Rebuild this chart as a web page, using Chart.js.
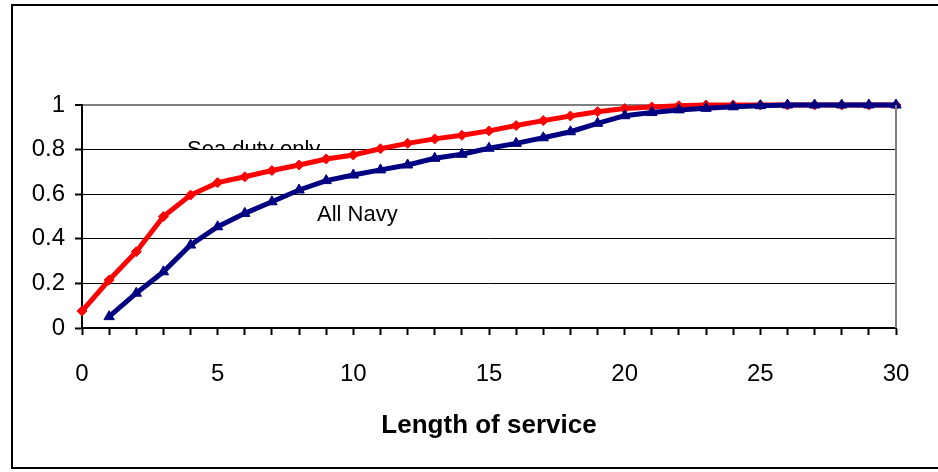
<!DOCTYPE html>
<html>
<head>
<meta charset="utf-8">
<script src="https://cdn.jsdelivr.net/npm/chart.js@4.4.1/dist/chart.umd.min.js"></script>
<style>
  html, body { margin: 0; padding: 0; background: #fff; }
  #wrap { width: 938px; height: 472px; position: relative; }
</style>
</head>
<body>
<div id="wrap"><canvas id="grafico" width="938" height="472"></canvas></div>
<script>
// datos
var years = [0,1,2,3,4,5,6,7,8,9,10,11,12,13,14,15,16,17,18,19,20,21,22,23,24,25,26,27,28,29,30];
var seaDuty = [0.076,0.215,0.342,0.50,0.596,0.652,0.678,0.706,0.731,0.758,0.776,0.804,0.828,0.848,0.864,0.884,0.908,0.930,0.951,0.970,0.984,0.991,0.997,1,1,1,1,1,1,1,1];
var allNavy = [null,0.051,0.156,0.252,0.372,0.454,0.514,0.566,0.619,0.661,0.686,0.709,0.731,0.761,0.779,0.806,0.828,0.853,0.880,0.918,0.952,0.966,0.978,0.985,0.992,0.997,1,1,1,1,1];
var xTicks = [0,5,10,15,20,25,30];
var yTicks = [0,0.2,0.4,0.6,0.8,1];
var textos = [
  {text: "Sea duty only", x: 3.87, y: 0.771, clipAt: 0.8},
  {text: "All Navy", x: 8.66, y: 0.48, clipAt: null}
];

function puntos(serie){
  var out = [];
  for (let i = 0; i < years.length; i++) {
    if (serie[i] !== null) out.push({x: years[i], y: serie[i]});
  }
  return out;
}

var FUENTE = "'Liberation Sans', Arial, sans-serif";

var marco = {
  id: "marco",
  afterDraw: function(chart){
    var c = chart.ctx, a = chart.chartArea;
    c.save();
    // borde gris derecho del area
    c.strokeStyle = "#808080";
    c.lineWidth = 2;
    c.beginPath();
    c.moveTo(a.right, a.top);
    c.lineTo(a.right, a.bottom);
    c.stroke();
    // marco exterior
    c.strokeStyle = "#000";
    c.lineWidth = 2;
    c.strokeRect(12, 5, 940, 463);
    c.restore();
  },
  afterDatasetsDraw: function(chart){
    var c = chart.ctx;
    var xs = chart.scales.x, ys = chart.scales.y;
    c.save();
    c.font = "22px " + FUENTE;
    c.fillStyle = "#000";
    c.textBaseline = "alphabetic";
    textos.forEach(function(t){
      c.save();
      if (t.clipAt !== null) {
        c.beginPath();
        c.rect(0, 0, chart.width, ys.getPixelForValue(t.clipAt));
        c.clip();
      }
      c.fillText(t.text, xs.getPixelForValue(t.x), ys.getPixelForValue(t.y));
      c.restore();
    });
    c.restore();
  }
};

var ctx = document.getElementById("grafico").getContext("2d");
var chart = new Chart(ctx, {
  type: "line",
  data: {
    datasets: [
      {
        label: "Sea duty only",
        data: puntos(seaDuty),
        borderColor: "#ff0000",
        backgroundColor: "#ff0000",
        borderWidth: 5,
        pointStyle: "rectRot",
        pointRadius: 5,
        pointBorderWidth: 1,
        tension: 0,
        order: 2,
        clip: 8
      },
      {
        label: "All Navy",
        data: puntos(allNavy),
        borderColor: "#000080",
        backgroundColor: "#000080",
        borderWidth: 5,
        pointStyle: "triangle",
        pointRadius: 6,
        pointBorderWidth: 1,
        tension: 0,
        order: 1,
        clip: 8
      }
    ]
  },
  options: {
    responsive: false,
    animation: false,
    devicePixelRatio: 1,
    layout: { padding: { left: 0, right: 42, top: 105, bottom: 0 } },
    plugins: {
      legend: { display: false },
      tooltip: { enabled: false }
    },
    scales: {
      x: {
        type: "linear",
        min: 0, max: 30,
        afterFit: function(s){ s.height = 144; },
        afterBuildTicks: function(s){
          s.ticks = years.map(function(v){ return {value: v}; });
        },
        ticks: {
          autoSkip: false,
          maxRotation: 0,
          padding: 25,
          color: "#000",
          font: { family: FUENTE, size: 24 },
          callback: function(v){ return xTicks.indexOf(v) >= 0 ? String(v) : ""; }
        },
        grid: {
          drawOnChartArea: false,
          drawTicks: true,
          tickLength: 7,
          tickColor: "#000",
          tickWidth: 2
        },
        border: { color: "#000", width: 2 },
        title: {
          display: true,
          text: "Length of service",
          color: "#000",
          font: { family: FUENTE, size: 26, weight: "bold" },
          padding: { top: 0, bottom: 31 }
        }
      },
      y: {
        min: 0, max: 1,
        afterFit: function(s){ s.width = 82; },
        afterBuildTicks: function(s){
          s.ticks = yTicks.map(function(v){ return {value: v}; });
        },
        ticks: {
          padding: 10,
          color: "#000",
          font: { family: FUENTE, size: 24 },
          callback: function(v){ return String(v); }
        },
        grid: {
          color: function(c){ return c.tick && c.tick.value === 1 ? "#808080" : "#000"; },
          lineWidth: function(c){ return c.tick && c.tick.value === 1 ? 2 : 1; },
          tickColor: "#000",
          tickLength: 7,
          tickWidth: 2
        },
        border: { color: "#000", width: 2 }
      }
    }
  },
  plugins: [marco]
});
</script>
</body>
</html>
